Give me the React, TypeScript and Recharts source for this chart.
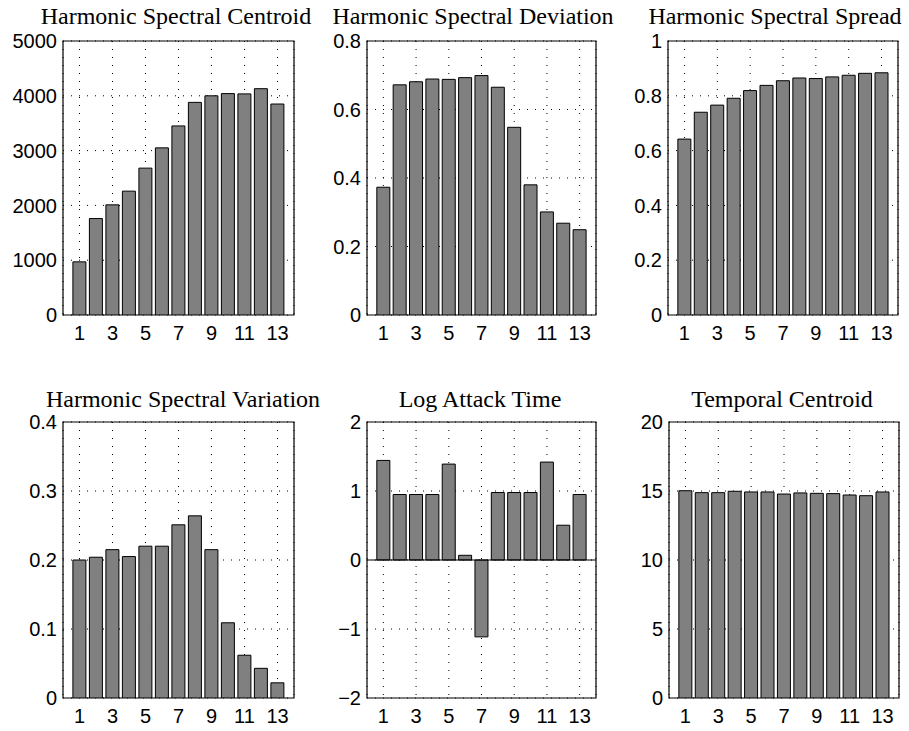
import React from "react";
import {
  BarChart,
  Bar,
  XAxis,
  YAxis,
  CartesianGrid,
  ReferenceArea,
  ReferenceLine,
} from "recharts";

// feature index on the x axis
const bands = [1, 2, 3, 4, 5, 6, 7, 8, 9, 10, 11, 12, 13];
const bandTicks = [1, 3, 5, 7, 9, 11, 13];

const centroid = [970, 1760, 2010, 2260, 2680, 3050, 3450, 3880, 4000, 4040, 4035, 4130, 3850];
const deviation = [0.373, 0.672, 0.681, 0.689, 0.688, 0.693, 0.699, 0.665, 0.548, 0.38, 0.301, 0.268, 0.249];
const spread = [0.642, 0.74, 0.766, 0.791, 0.819, 0.838, 0.855, 0.865, 0.863, 0.869, 0.875, 0.882, 0.884];
const variation = [0.2, 0.204, 0.215, 0.205, 0.22, 0.22, 0.251, 0.264, 0.215, 0.109, 0.062, 0.043, 0.022];
const logAttack = [1.443, 0.949, 0.949, 0.949, 1.39, 0.068, -1.114, 0.978, 0.978, 0.978, 1.419, 0.504, 0.949];
const temporal = [15.02, 14.88, 14.88, 14.98, 14.93, 14.93, 14.78, 14.86, 14.83, 14.81, 14.71, 14.66, 14.93];

const centroidTicks = [0, 1000, 2000, 3000, 4000, 5000];
const deviationTicks = [0, 0.2, 0.4, 0.6, 0.8];
const spreadTicks = [0, 0.2, 0.4, 0.6, 0.8, 1];
const variationTicks = [0, 0.1, 0.2, 0.3, 0.4];
const logAttackTicks = [-2, -1, 0, 1, 2];
const temporalTicks = [0, 5, 10, 15, 20];

const AXIS_W = 62;
const PAD_TOP = 10;
const PAD_RIGHT = 10;
const X_AXIS_H = 40;

const tickStyle = {
  fill: "#000",
  fontSize: 20,
  fontFamily: "'Liberation Sans', Arial, sans-serif",
};

const fmt = (v: number) => (v < 0 ? "\u2212" + Math.abs(v) : String(v));

type Box = { left: number; top: number; right: number; bottom: number };

interface PanelProps {
  values: number[];
  yTicks: number[];
  box: Box;
  zeroLine?: boolean;
}

function Panel({ values, yTicks, box, zeroLine }: PanelProps) {
  const data = bands.map((band, i) => ({ band, value: values[i] }));
  const yMin = yTicks[0];
  const yMax = yTicks[yTicks.length - 1];
  const width = box.right - box.left + AXIS_W + PAD_RIGHT;
  const height = box.bottom - box.top + PAD_TOP + X_AXIS_H;

  return (
    <div style={{ position: "absolute", left: box.left - AXIS_W, top: box.top - PAD_TOP }}>
      <BarChart
        width={width}
        height={height}
        data={data}
        margin={{ top: PAD_TOP, right: PAD_RIGHT, bottom: 0, left: 0 }}
        barCategoryGap="10%"
      >
        <CartesianGrid stroke="#000" strokeDasharray="1 7" />
        <XAxis
          dataKey="band"
          type="number"
          domain={[0, 14]}
          ticks={bandTicks}
          allowDataOverflow
          axisLine={false}
          tickLine={false}
          tickSize={0}
          tickMargin={11}
          height={X_AXIS_H}
          tick={tickStyle}
          interval={0}
        />
        <YAxis
          type="number"
          domain={[yMin, yMax]}
          ticks={yTicks}
          allowDataOverflow
          axisLine={false}
          tickLine={false}
          tickSize={0}
          tickMargin={6}
          width={AXIS_W}
          tick={tickStyle}
          tickFormatter={fmt}
          interval={0}
        />
        <Bar
          dataKey="value"
          fill="#808080"
          stroke="#000"
          strokeWidth={1}
          isAnimationActive={false}
        />
        {zeroLine && <ReferenceLine y={0} stroke="#000" strokeWidth={1.2} />}
        <ReferenceArea
          x1={0}
          x2={14}
          y1={yMin}
          y2={yMax}
          fill="none"
          stroke="#000"
          strokeWidth={1.2}
          ifOverflow="visible"
        />
      </BarChart>
    </div>
  );
}

const titles = [
  { text: "Harmonic Spectral Centroid", x: 176, y: 24 },
  { text: "Harmonic Spectral Deviation", x: 473, y: 24 },
  { text: "Harmonic Spectral Spread", x: 775, y: 24 },
  { text: "Harmonic Spectral Variation", x: 183, y: 407 },
  { text: "Log Attack Time", x: 480, y: 407 },
  { text: "Temporal Centroid", x: 782, y: 407 },
];

export default function App() {
  return (
    <div
      style={{
        position: "absolute",
        left: 0,
        top: 0,
        width: 909,
        height: 731,
        background: "#fff",
        overflow: "hidden",
      }}
    >
      <Panel values={centroid} yTicks={centroidTicks} box={{ left: 63, top: 41, right: 294, bottom: 315 }} />
      <Panel values={deviation} yTicks={deviationTicks} box={{ left: 367, top: 41, right: 596, bottom: 315 }} />
      <Panel values={spread} yTicks={spreadTicks} box={{ left: 668, top: 41, right: 898, bottom: 315 }} />
      <Panel values={variation} yTicks={variationTicks} box={{ left: 63, top: 422, right: 294, bottom: 698 }} />
      <Panel values={logAttack} yTicks={logAttackTicks} box={{ left: 367, top: 422, right: 596, bottom: 698 }} zeroLine />
      <Panel values={temporal} yTicks={temporalTicks} box={{ left: 669, top: 422, right: 899, bottom: 698 }} />
      <svg
        width={909}
        height={731}
        style={{ position: "absolute", left: 0, top: 0, pointerEvents: "none" }}
      >
        {titles.map((t) => (
          <text
            key={t.text}
            x={t.x}
            y={t.y}
            textAnchor="middle"
            fontFamily="'Liberation Serif', 'Times New Roman', serif"
            fontSize={24}
            fill="#000"
          >
            {t.text}
          </text>
        ))}
      </svg>
    </div>
  );
}
